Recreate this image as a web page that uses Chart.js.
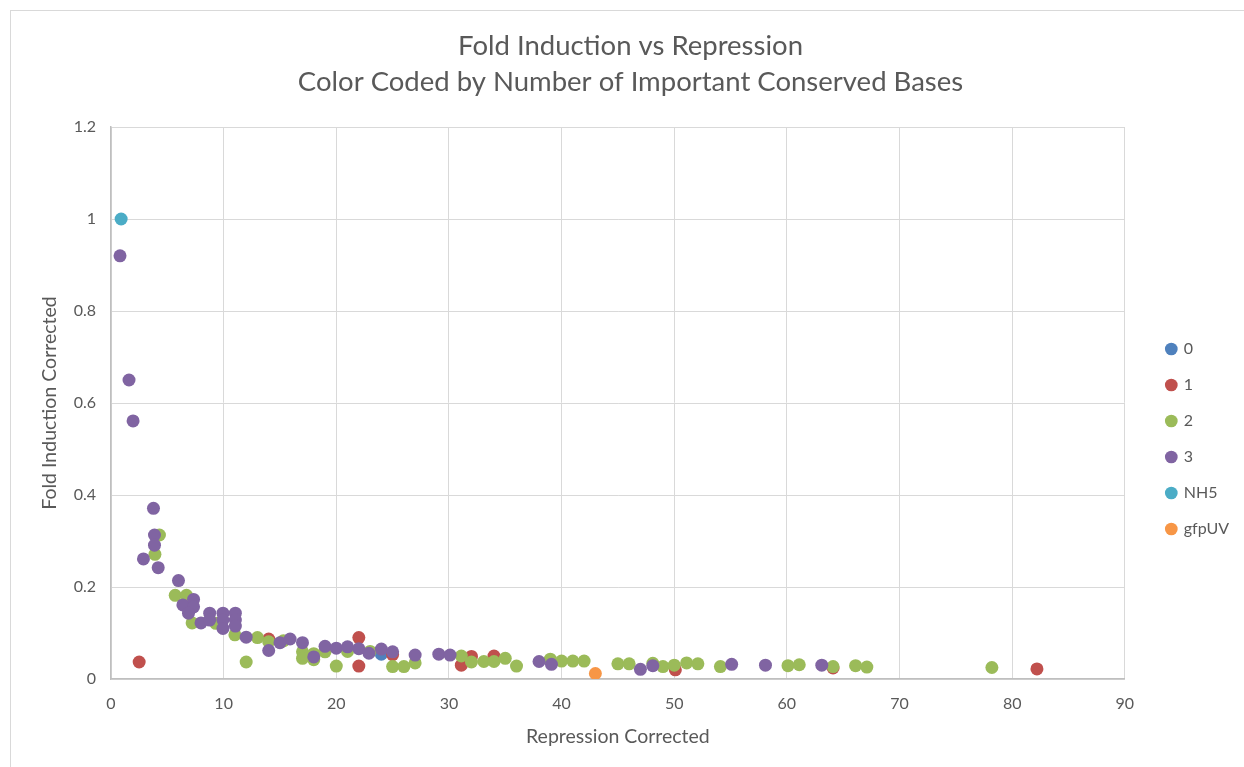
<!DOCTYPE html>
<html>
<head>
<meta charset="utf-8">
<script src="https://cdn.jsdelivr.net/npm/chart.js@4/dist/chart.umd.min.js"></script>
<style>
  body { margin: 0; background: #fff; overflow: hidden; }
  #wrap { position: absolute; left: 10px; top: 10px; width: 1240px; height: 760px; border: 1px solid #d9d9d9; }
</style>
</head>
<body>
<div id="wrap"><canvas id="myChart" width="1240" height="756"></canvas></div>
<script>
//Data: [repression, fold induction]
const bases0 = [[24, 0.054]];
const bases1 = [
  [2.5, 0.037], [14, 0.087], [22, 0.09], [22, 0.028], [25, 0.053], [31.1, 0.03],
  [32, 0.049], [34, 0.05], [50.1, 0.02], [64.1, 0.024], [82.2, 0.022]
];
const bases2 = [
  [3.9, 0.271], [4.3, 0.313], [5.7, 0.182], [6.7, 0.182], [7.2, 0.122], [9.3, 0.121],
  [11, 0.096], [12, 0.037], [13, 0.09], [14, 0.081], [15.3, 0.083], [17, 0.059],
  [17, 0.045], [18, 0.055], [18, 0.042], [19, 0.059], [20, 0.028], [21, 0.06],
  [23, 0.06], [25, 0.027], [26, 0.027], [27, 0.035], [31.1, 0.05], [32, 0.037],
  [33.1, 0.038], [34, 0.038], [35, 0.045], [36, 0.028], [39, 0.043], [40, 0.039],
  [41, 0.039], [42, 0.039], [45, 0.033], [46, 0.033], [48.1, 0.034], [49, 0.027],
  [50, 0.03], [51.1, 0.035], [52.1, 0.033], [54.1, 0.027], [60.1, 0.029], [61.1, 0.031],
  [64.1, 0.027], [66.1, 0.029], [67.1, 0.026], [78.2, 0.025]
];
const bases3 = [
  [0.8, 0.92], [1.6, 0.65], [1.96, 0.561], [3.77, 0.371], [3.86, 0.313], [3.86, 0.291],
  [2.88, 0.261], [4.19, 0.242], [5.99, 0.214], [6.38, 0.161], [7.33, 0.173], [7.33, 0.157],
  [6.88, 0.143], [7.99, 0.122], [8.76, 0.143], [8.76, 0.128], [9.94, 0.143], [9.94, 0.128],
  [9.94, 0.11], [11.04, 0.143], [11.04, 0.128], [11.04, 0.115], [12, 0.091], [14, 0.062],
  [15, 0.079], [15.9, 0.087], [17, 0.079], [18, 0.048], [19, 0.071], [20, 0.067],
  [21, 0.07], [22, 0.066], [22.9, 0.056], [24, 0.065], [25, 0.059], [27, 0.052],
  [29.1, 0.054], [30.1, 0.052], [38, 0.038], [39.1, 0.032], [47, 0.021], [48.1, 0.029],
  [55.1, 0.032], [58.1, 0.03], [63.1, 0.03]
];
const nh5 = [[0.9, 1.0]];
const gfpUV = [[43, 0.012]];

const seriesNames = ["0", "1", "2", "3", "NH5", "gfpUV"];
const seriesColors = ["#4F81BD", "#C0504D", "#9BBB59", "#8064A2", "#4BACC6", "#F79646"];
const xTicks = [0, 10, 20, 30, 40, 50, 60, 70, 80, 90];
const yTicks = [0, 0.2, 0.4, 0.6, 0.8, 1, 1.2];

const grey = "#595959";
const fontName = "Lato, 'Open Sans', sans-serif";
var ctx = document.querySelector("#myChart").getContext("2d");

function toPoints(list) {
  return list.map(([x, y]) => ({ x: x, y: y }));
}

const allSeries = [bases0, bases1, bases2, bases3, nh5, gfpUV];
let datasets = [];
allSeries.forEach((list, i) => {
  datasets.push({
    label: seriesNames[i],
    data: toPoints(list),
    backgroundColor: seriesColors[i],
    borderColor: seriesColors[i],
    borderWidth: 0,
    pointRadius: 6.5,
    pointHoverRadius: 6.5,
    // later series sit on top, like excel
    order: allSeries.length - i,
  });
});

var myChart = new Chart(ctx, {
  type: "scatter",
  data: { datasets: datasets },
  options: {
    responsive: false,
    animation: false,
    layout: { padding: { left: 0, right: 1, top: 0, bottom: 0 } },
    plugins: {
      tooltip: { enabled: false },
      title: {
        display: true,
        text: ["Fold Induction vs Repression", "Color Coded by Number of Important Conserved Bases"],
        color: grey,
        font: { family: fontName, size: 27.5, weight: "normal", lineHeight: 1.3 },
        padding: { top: 17, bottom: 27.5 },
      },
      legend: {
        position: "right",
        title: { display: true, text: " ", padding: { top: 41, bottom: 41 }, font: { size: 15 } },
        labels: {
          usePointStyle: true,
          boxWidth: 9,
          boxHeight: 9,
          padding: 20,
          color: grey,
          font: { family: fontName, size: 16 },
          sort: (a, b) => a.datasetIndex - b.datasetIndex,
        },
      },
    },
    scales: {
      x: {
        type: "linear",
        min: 0,
        max: 90,
        afterFit: (scale) => { scale.height = 88; },
        afterBuildTicks: (scale) => { scale.ticks = xTicks.map((v) => ({ value: v })); },
        grid: { color: "#d9d9d9", drawTicks: false },
        border: { color: "#bfbfbf", width: 1.5 },
        ticks: { color: grey, padding: 15, font: { family: fontName, size: 16 } },
        title: {
          display: true,
          text: "Repression Corrected",
          color: grey,
          font: { family: fontName, size: 19.5 },
          padding: { bottom: 19 },
        },
      },
      y: {
        type: "linear",
        min: 0,
        max: 1.2,
        afterFit: (scale) => { scale.width = 100; },
        afterBuildTicks: (scale) => { scale.ticks = yTicks.map((v) => ({ value: v })); },
        grid: { color: "#d9d9d9", drawTicks: false },
        border: { color: "#bfbfbf", width: 1.5 },
        ticks: {
          color: grey,
          padding: 15,
          font: { family: fontName, size: 16 },
          callback: (v) => String(Math.round(v * 10) / 10),
        },
        title: {
          display: true,
          text: "Fold Induction Corrected",
          color: grey,
          font: { family: fontName, size: 19.5 },
          padding: { top: 27 },
        },
      },
      //empty axes on the right: a gap before the legend and one after it
      gap: {
        type: "linear",
        axis: "y",
        position: "right",
        afterFit: (scale) => { scale.width = 22; },
        grid: { display: false },
        border: { display: false },
        ticks: { display: false },
      },
      edge: {
        type: "linear",
        axis: "y",
        position: "right",
        weight: 2000,
        afterFit: (scale) => { scale.width = 11; },
        grid: { display: false },
        border: { display: false },
        ticks: { display: false },
      },
    },
  },
});
</script>
</body>
</html>
